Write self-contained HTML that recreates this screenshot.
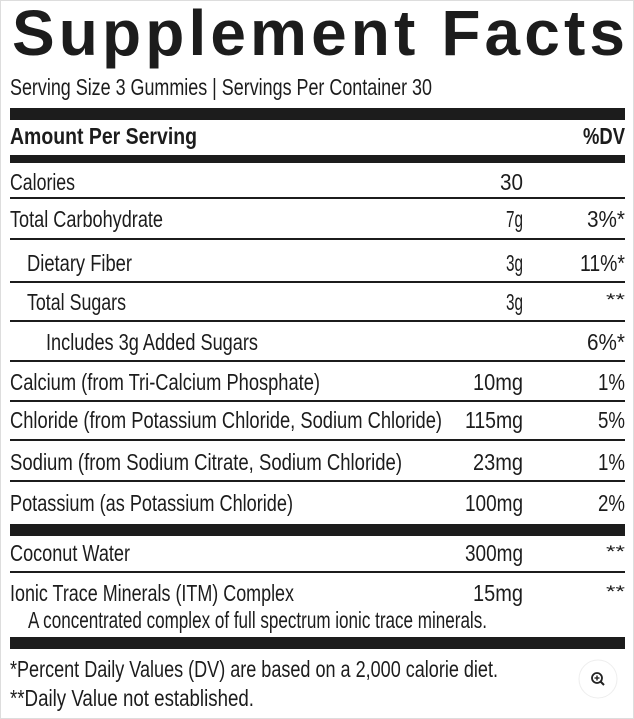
<!DOCTYPE html>
<html><head><style>html,body{margin:0;padding:0;background:#fff}svg{display:block}</style></head>
<body>
<svg width="634" height="719" viewBox="0 0 634 719" xmlns="http://www.w3.org/2000/svg" font-family="Liberation Sans, sans-serif" fill="#1c1c1c">
<rect x="0.5" y="0.5" width="633" height="718" fill="#fff" stroke="#ddd"/>
<text x="12" y="55" font-size="64" font-weight="bold" textLength="613" lengthAdjust="spacing">Supplement Facts</text>
<g font-size="23">
<text x="10" y="95" textLength="422" lengthAdjust="spacingAndGlyphs">Serving Size 3 Gummies | Servings Per Container 30</text>
<rect x="10" y="108" width="615" height="12"/>
<text x="10" y="144" font-weight="bold" textLength="187" lengthAdjust="spacingAndGlyphs">Amount Per Serving</text>
<text x="583" y="144" font-weight="bold" textLength="42" lengthAdjust="spacingAndGlyphs">%DV</text>
<rect x="10" y="155" width="615" height="8"/>
<text x="10" y="190" textLength="65" lengthAdjust="spacingAndGlyphs">Calories</text>
<text x="500" y="190" textLength="23" lengthAdjust="spacingAndGlyphs">30</text>
<rect x="10" y="197" width="615" height="2"/>
<text x="10" y="227" textLength="153" lengthAdjust="spacingAndGlyphs">Total Carbohydrate</text>
<text x="506" y="227" textLength="17" lengthAdjust="spacingAndGlyphs">7g</text>
<text x="587" y="227" textLength="38" lengthAdjust="spacingAndGlyphs">3%*</text>
<rect x="10" y="238" width="615" height="2"/>
<text x="27" y="271" textLength="105" lengthAdjust="spacingAndGlyphs">Dietary Fiber</text>
<text x="506" y="271" textLength="17" lengthAdjust="spacingAndGlyphs">3g</text>
<text x="580" y="271" textLength="45" lengthAdjust="spacingAndGlyphs">11%*</text>
<rect x="10" y="281" width="615" height="2"/>
<text x="27" y="310" textLength="99" lengthAdjust="spacingAndGlyphs">Total Sugars</text>
<text x="506" y="310" textLength="17" lengthAdjust="spacingAndGlyphs">3g</text>
<text x="606" y="305" font-size="17" textLength="19" lengthAdjust="spacingAndGlyphs">**</text>
<rect x="10" y="320" width="615" height="2"/>
<text x="46" y="350" textLength="212" lengthAdjust="spacingAndGlyphs">Includes 3g Added Sugars</text>
<text x="587" y="350" textLength="38" lengthAdjust="spacingAndGlyphs">6%*</text>
<rect x="10" y="360" width="615" height="2"/>
<text x="10" y="390" textLength="310" lengthAdjust="spacingAndGlyphs">Calcium (from Tri-Calcium Phosphate)</text>
<text x="473" y="390" textLength="50" lengthAdjust="spacingAndGlyphs">10mg</text>
<text x="598" y="390" textLength="27" lengthAdjust="spacingAndGlyphs">1%</text>
<rect x="10" y="400" width="615" height="2"/>
<text x="10" y="428" textLength="432" lengthAdjust="spacingAndGlyphs">Chloride (from Potassium Chloride, Sodium Chloride)</text>
<text x="465" y="428" textLength="58" lengthAdjust="spacingAndGlyphs">115mg</text>
<text x="598" y="428" textLength="27" lengthAdjust="spacingAndGlyphs">5%</text>
<rect x="10" y="439" width="615" height="2"/>
<text x="10" y="470" textLength="392" lengthAdjust="spacingAndGlyphs">Sodium (from Sodium Citrate, Sodium Chloride)</text>
<text x="473" y="470" textLength="50" lengthAdjust="spacingAndGlyphs">23mg</text>
<text x="598" y="470" textLength="27" lengthAdjust="spacingAndGlyphs">1%</text>
<rect x="10" y="480" width="615" height="2"/>
<text x="10" y="511" textLength="283" lengthAdjust="spacingAndGlyphs">Potassium (as Potassium Chloride)</text>
<text x="465" y="511" textLength="58" lengthAdjust="spacingAndGlyphs">100mg</text>
<text x="598" y="511" textLength="27" lengthAdjust="spacingAndGlyphs">2%</text>
<rect x="10" y="524" width="615" height="12"/>
<text x="10" y="561" textLength="120" lengthAdjust="spacingAndGlyphs">Coconut Water</text>
<text x="465" y="561" textLength="58" lengthAdjust="spacingAndGlyphs">300mg</text>
<text x="606" y="557" font-size="17" textLength="19" lengthAdjust="spacingAndGlyphs">**</text>
<rect x="10" y="571" width="615" height="2"/>
<text x="10" y="601" textLength="284" lengthAdjust="spacingAndGlyphs">Ionic Trace Minerals (ITM) Complex</text>
<text x="473" y="601" textLength="50" lengthAdjust="spacingAndGlyphs">15mg</text>
<text x="606" y="597" font-size="17" textLength="19" lengthAdjust="spacingAndGlyphs">**</text>
<text x="28" y="628" textLength="459" lengthAdjust="spacingAndGlyphs">A concentrated complex of full spectrum ionic trace minerals.</text>
<rect x="10" y="637" width="615" height="12"/>
<text x="10" y="677" textLength="488" lengthAdjust="spacingAndGlyphs">*Percent Daily Values (DV) are based on a 2,000 calorie diet.</text>
<text x="10" y="706" textLength="244" lengthAdjust="spacingAndGlyphs">**Daily Value not established.</text>
</g>
<circle cx="598" cy="679" r="19" fill="#fff" stroke="#eee"/>
<circle cx="597" cy="678" r="5" fill="none" stroke="#222" stroke-width="1.8"/>
<line x1="600.5" y1="681.5" x2="604" y2="685" stroke="#222" stroke-width="2"/>
<line x1="594.5" y1="678" x2="599.5" y2="678" stroke="#222" stroke-width="1.4"/>
<line x1="597" y1="675.5" x2="597" y2="680.5" stroke="#222" stroke-width="1.4"/>
</svg>
</body></html>
